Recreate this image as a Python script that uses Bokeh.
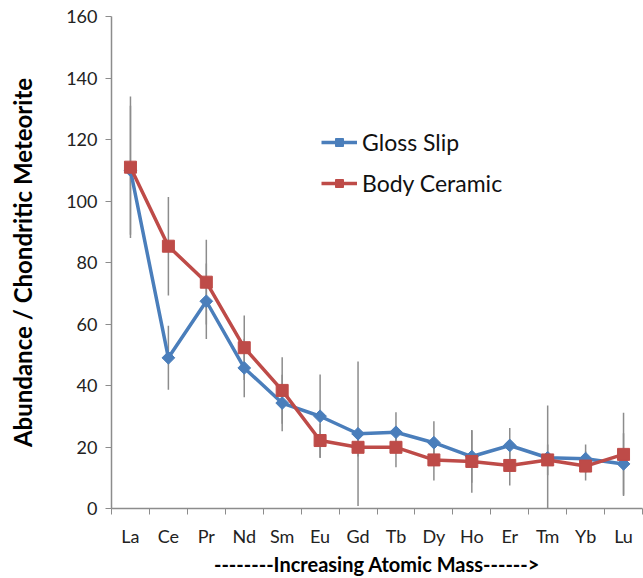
import numpy as np
from bokeh.plotting import figure
from bokeh.models import (ColumnDataSource, FixedTicker, Range1d, Legend, LegendItem)
from bokeh.embed import file_html
from bokeh.resources import INLINE

# ---- data ----
elements = ["La", "Ce", "Pr", "Nd", "Sm", "Eu", "Gd", "Tb", "Dy", "Ho", "Er", "Tm", "Yb", "Lu"]
gloss_slip = [110.0, 49.0, 67.4, 45.7, 34.3, 30.0, 24.3, 24.8, 21.4, 16.9, 20.5, 16.5, 16.2, 14.5]
body_ceramic = [111.0, 85.3, 73.6, 52.3, 38.4, 22.1, 19.9, 19.9, 15.8, 15.3, 14.0, 15.8, 13.8, 17.6]
gloss_err = [21.0, 10.4, 12.3, 9.5, 9.2, 13.6, 23.5, 6.5, 7.0, 8.5, 5.7, 17.0, 4.6, 10.0]
body_err = [23.0, 16.0, 13.8, 10.5, 10.8, 5.5, 3.0, 6.5, 6.7, 10.2, 6.5, 5.0, 4.7, 13.5]
y_ticks = [0, 20, 40, 60, 80, 100, 120, 140, 160]

FONT = "Lato"
BLUE = "#4A7EBB"
RED = "#BE4B48"
GRAY = "#8C8C8C"

idx = np.arange(len(elements))
g = np.array(gloss_slip)
b = np.array(body_ceramic)
ge = np.array(gloss_err)
be = np.array(body_err)

src_g = ColumnDataSource(dict(x=idx, y=g, lo=g - ge, hi=g + ge))
src_b = ColumnDataSource(dict(x=idx, y=b, lo=b - be, hi=b + be))

p = figure(width=643, height=578, output_backend="svg", toolbar_location=None,
           x_range=Range1d(-0.5, len(elements) - 0.5), y_range=Range1d(0, 160),
           min_border_left=111, min_border_right=1, min_border_top=16, min_border_bottom=70)
p.outline_line_color = None
p.grid.grid_line_color = None
p.background_fill_color = "white"

# error bars
p.segment(x0="x", y0="lo", x1="x", y1="hi", source=src_g, line_color=GRAY, line_width=1.5)
p.segment(x0="x", y0="lo", x1="x", y1="hi", source=src_b, line_color=GRAY, line_width=1.5)

# series
lg = p.line("x", "y", source=src_g, line_color=BLUE, line_width=3.5)
mg = p.scatter("x", "y", source=src_g, marker="square", angle=np.pi / 4, size=9,
               fill_color=BLUE, line_color=BLUE)
lb = p.line("x", "y", source=src_b, line_color=RED, line_width=3.5)
mb = p.scatter("x", "y", source=src_b, marker="square", size=12,
               fill_color=RED, line_color=RED)

# axes
xa = p.xaxis[0]
xa.ticker = FixedTicker(ticks=list(idx), minor_ticks=list(np.arange(len(elements) + 1) - 0.5))
xa.major_label_overrides = {int(i): e for i, e in zip(idx, elements)}
xa.major_tick_out = 0
xa.major_tick_in = 0
xa.minor_tick_out = 6
xa.minor_tick_in = 0
xa.minor_tick_line_color = GRAY
xa.axis_line_color = GRAY
xa.axis_line_width = 1.5
xa.major_label_standoff = 10
xa.major_label_text_font = FONT
xa.major_label_text_font_size = "18px"
xa.major_label_text_color = "#222222"
xa.axis_label = "--------Increasing Atomic Mass------>"
xa.axis_label_text_font = FONT
xa.axis_label_text_font_style = "bold"
xa.axis_label_text_font_size = "20px"
xa.axis_label_text_color = "#000000"
xa.axis_label_standoff = 2

ya = p.yaxis[0]
ya.ticker = FixedTicker(ticks=y_ticks)
ya.major_tick_out = 6
ya.major_tick_in = 0
ya.minor_tick_line_color = None
ya.major_tick_line_color = GRAY
ya.axis_line_color = GRAY
ya.axis_line_width = 1.5
ya.major_label_standoff = 8
ya.major_label_text_font = FONT
ya.major_label_text_font_size = "18px"
ya.major_label_text_color = "#222222"
ya.axis_label = "Abundance / Chondritic Meteorite"
ya.axis_label_text_font = FONT
ya.axis_label_text_font_style = "bold"
ya.axis_label_text_font_size = "24px"
ya.axis_label_text_color = "#000000"
ya.axis_label_standoff = 26

legend = Legend(items=[LegendItem(label="Gloss Slip", renderers=[lg, mg]),
                       LegendItem(label="Body Ceramic", renderers=[lb, mb])],
                location=(210, 311), orientation="vertical")
legend.border_line_color = None
legend.background_fill_alpha = 0
legend.padding = 0
legend.margin = 0
legend.spacing = 13
legend.glyph_width = 36
legend.glyph_height = 20
legend.label_height = 20
legend.label_standoff = 5
legend.label_text_font = FONT
legend.label_text_font_size = "23px"
legend.label_text_color = "#111111"
p.add_layout(legend, "center")

open("out.html", "w").write(file_html(p, INLINE))
